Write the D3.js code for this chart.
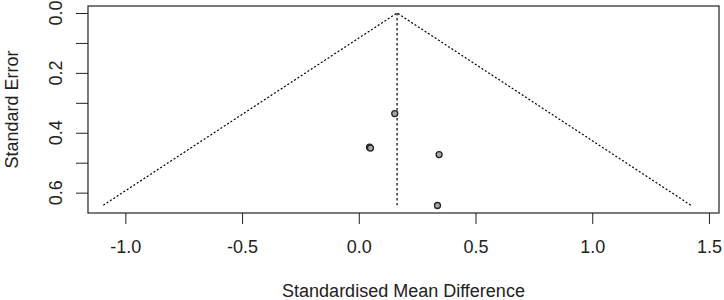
<!DOCTYPE html>
<html>
<head>
<meta charset="utf-8">
<script src="https://cdn.jsdelivr.net/npm/d3@7"></script>
<style>
    body { margin: 0; background: #fff; }
    text { font-family: "Liberation Sans", Arial, sans-serif; fill: #222; }
</style>
</head>
<body>
<div id="chart"></div>
<script>
// study estimates (standardised mean difference) and their standard errors
let smd = [0.154, 0.046, 0.050, 0.344, 0.337];
let se  = [0.336, 0.448, 0.451, 0.473, 0.643];

// pooled estimate and funnel depth
let pooled = 0.164;
let seMax = 0.642;

let xTicks = [-1.0, -0.5, 0.0, 0.5, 1.0, 1.5];
let yTicks = [0.0, 0.1, 0.2, 0.3, 0.4, 0.5, 0.6];
let yLabels = [0.0, 0.2, 0.4, 0.6];

let margin = {top: 6, right: 5, bottom: 87, left: 88};
let width = 724 - margin.left - margin.right;
let height = 300 - margin.top - margin.bottom;

// R style labels: plain hyphen for negatives
let fmt = d => d.toFixed(1);

let svg = d3.select("#chart").append("svg")
    .attr("width", 724)
    .attr("height", 300)
    .append("g")
    .attr("transform", "translate(" + margin.left + "," + margin.top + ")");

// scales
let x = d3.scaleLinear().domain([-1.160, 1.543]).range([0, width]);
let y = d3.scaleLinear().domain([-0.0234, 0.668]).range([0, height]);

// x axis
let xAxis = svg.append("g")
    .attr("transform", "translate(0," + height + ")")
    .call(d3.axisBottom(x).tickValues(xTicks).tickFormat(fmt).tickSize(11).tickPadding(16));
xAxis.select(".domain").remove();
xAxis.selectAll("text").attr("font-size", "18px").style("fill", "#222");
xAxis.selectAll("line").attr("stroke", "#222");

// y axis (labels rotated like base R)
let yAxis = svg.append("g")
    .call(d3.axisLeft(y).tickValues(yTicks).tickSize(12).tickFormat(""));
yAxis.select(".domain").remove();
yAxis.selectAll("line").attr("stroke", "#222");

svg.selectAll(".ylab")
    .data(yLabels)
    .enter().append("text")
    .attr("class", "ylab")
    .attr("transform", d => "translate(" + (-26) + "," + y(d) + ") rotate(-90)")
    .attr("text-anchor", "middle")
    .attr("font-size", "18px")
    .text(fmt);

// plot box
svg.append("rect")
    .attr("width", width)
    .attr("height", height)
    .attr("fill", "none")
    .attr("stroke", "#222")
    .attr("stroke-width", 1.2);

// funnel
let z = 1.96;
let funnel = [[pooled - z * seMax, seMax], [pooled, 0], [pooled + z * seMax, seMax]];
svg.append("path")
    .datum(funnel)
    .attr("d", d3.line().x(d => x(d[0])).y(d => y(d[1])))
    .attr("fill", "none")
    .attr("stroke", "#000")
    .attr("stroke-width", 1.2)
    .attr("stroke-dasharray", "2,2");

// pooled estimate line
svg.append("line")
    .attr("x1", x(pooled)).attr("x2", x(pooled))
    .attr("y1", y(0)).attr("y2", y(seMax))
    .attr("stroke", "#000")
    .attr("stroke-width", 1.2)
    .attr("stroke-dasharray", "2.5,2.5");

// studies
svg.selectAll(".pt")
    .data(smd)
    .enter().append("circle")
    .attr("class", "pt")
    .attr("cx", d => x(d))
    .attr("cy", (d, i) => y(se[i]))
    .attr("r", 3)
    .attr("fill", "#a8a8a8")
    .attr("stroke", "#222")
    .attr("stroke-width", 1.3);

// axis titles
svg.append("text")
    .attr("x", width / 2)
    .attr("y", height + 84)
    .attr("text-anchor", "middle")
    .attr("font-size", "18px")
    .text("Standardised Mean Difference");

svg.append("text")
    .attr("transform", "translate(" + (-70) + "," + (height / 2) + ") rotate(-90)")
    .attr("text-anchor", "middle")
    .attr("font-size", "18px")
    .text("Standard Error");
</script>
</body>
</html>
